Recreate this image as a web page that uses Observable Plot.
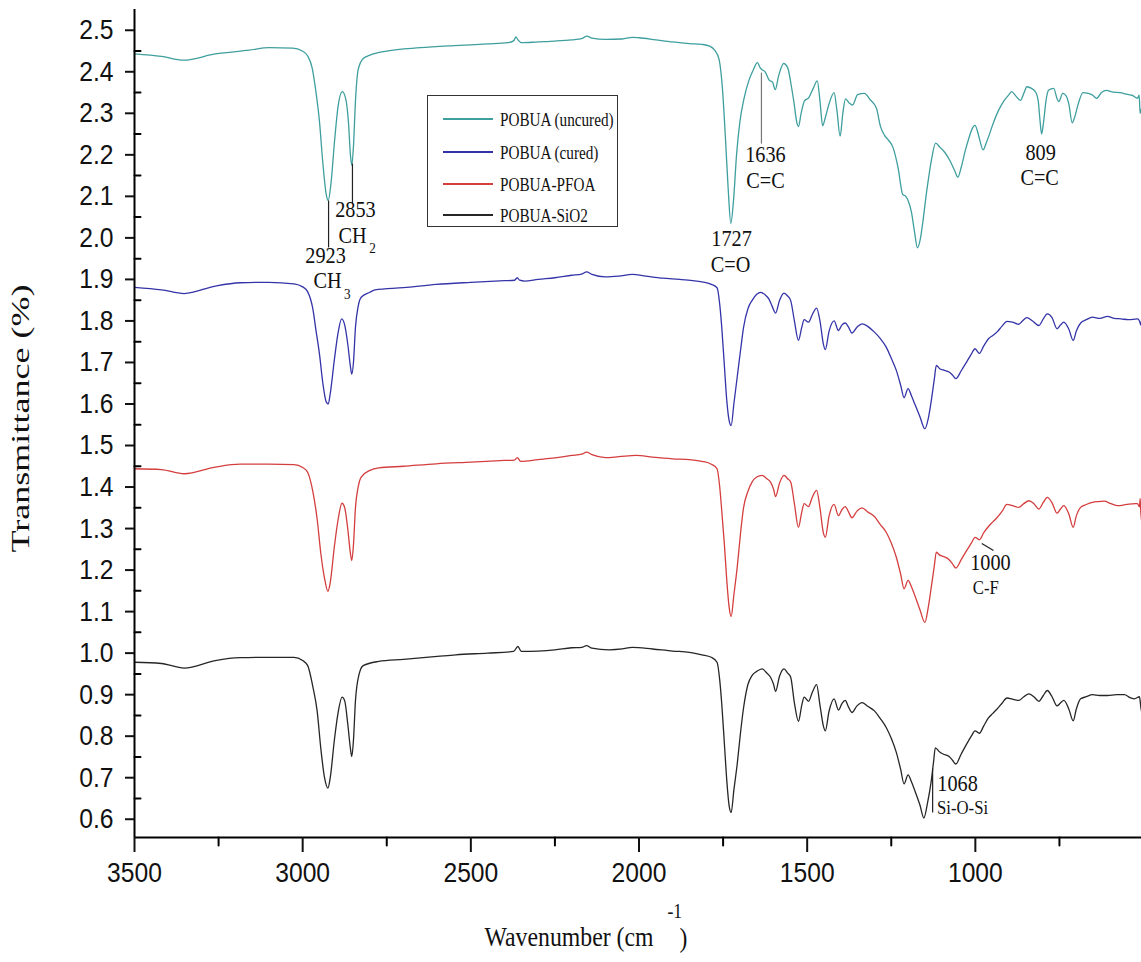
<!DOCTYPE html>
<html><head><meta charset="utf-8">
<script src="https://cdn.jsdelivr.net/npm/d3@7"></script>
<script src="https://cdn.jsdelivr.net/npm/@observablehq/plot@0.6"></script>
<style>
body{margin:0;background:#fff}
#chart{position:relative;width:1141px;height:962px}
#legend{position:absolute;left:427px;top:95px;width:191px;height:132px;border:1.5px solid #333;box-sizing:border-box;background:#fff}
.sw{position:absolute;left:15px;width:50px;height:0;border-top:2px solid}
.lab{position:absolute;left:72px;font-family:"Liberation Serif","Times New Roman",serif;font-size:19px;color:#111;white-space:nowrap;transform-origin:left center;transform:translateY(-50%) scaleX(0.8);line-height:1}
</style></head><body>
<div id="chart"><div id="legend"></div></div>
<script>
// ---- axes / tick labels ----
const xDomain = [3500, 506];
const yDomain = [0.556, 2.55];
const xTicks = [3500, 3000, 2500, 2000, 1500, 1000];
const xMinor = [3250, 2750, 2250, 1750, 1250, 750];
const yTicks = [0.6,0.7,0.8,0.9,1.0,1.1,1.2,1.3,1.4,1.5,1.6,1.7,1.8,1.9,2.0,2.1,2.2,2.3,2.4,2.5];
const yMinor = [0.65,0.75,0.85,0.95,1.05,1.15,1.25,1.35,1.45,1.55,1.65,1.75,1.85,1.95,2.05,2.15,2.25,2.35,2.45];
const xTitle = "Wavenumber (cm";
const xTitleSup = "-1";
const xTitleEnd = ")";
const yTitle = "Transmittance (%)";

// ---- series ----
const seriesNames = ["POBUA (uncured)", "POBUA (cured)", "POBUA-PFOA", "POBUA-SiO2"];
const seriesColors = ["#3f9e9e", "#3434a8", "#d43e3e", "#262626"];

const uncured = [[3500,2.443],[3420,2.437],[3354,2.428],[3260,2.443],[3159,2.452],[3099,2.458],[3030,2.457],[3001,2.45],[2985,2.438],[2972,2.41],[2962,2.36],[2950,2.28],[2940,2.18],[2930,2.105],[2924,2.09],[2916,2.13],[2905,2.235],[2895,2.315],[2882,2.352],[2872,2.335],[2864,2.28],[2858,2.2],[2854,2.175],[2849,2.22],[2843,2.33],[2835,2.405],[2820,2.432],[2800,2.44],[2750,2.45],[2650,2.458],[2550,2.463],[2450,2.467],[2390,2.47],[2372,2.475],[2366,2.484],[2360,2.477],[2350,2.47],[2300,2.472],[2250,2.474],[2200,2.477],[2170,2.48],[2155,2.486],[2140,2.481],[2100,2.478],[2050,2.479],[2020,2.483],[2000,2.482],[1950,2.477],[1900,2.472],[1850,2.468],[1813,2.466],[1790,2.462],[1775,2.452],[1762,2.43],[1752,2.36],[1743,2.24],[1735,2.12],[1727,2.035],[1719,2.09],[1710,2.2],[1700,2.28],[1688,2.335],[1673,2.38],[1660,2.405],[1648,2.422],[1640,2.41],[1634,2.405],[1625,2.4],[1613,2.38],[1603,2.375],[1595,2.357],[1585,2.39],[1570,2.42],[1558,2.41],[1548,2.37],[1540,2.33],[1530,2.275],[1526,2.268],[1518,2.3],[1508,2.33],[1495,2.338],[1482,2.36],[1470,2.378],[1462,2.33],[1454,2.27],[1446,2.29],[1436,2.32],[1420,2.35],[1412,2.31],[1402,2.245],[1394,2.3],[1386,2.335],[1375,2.325],[1365,2.32],[1350,2.345],[1330,2.348],[1312,2.332],[1294,2.312],[1282,2.268],[1270,2.247],[1258,2.235],[1245,2.218],[1230,2.17],[1216,2.105],[1207,2.1],[1200,2.09],[1190,2.062],[1181,2.015],[1172,1.976],[1163,2.0],[1155,2.045],[1147,2.098],[1138,2.15],[1130,2.19],[1118,2.228],[1105,2.218],[1090,2.205],[1075,2.185],[1062,2.163],[1052,2.146],[1042,2.17],[1030,2.21],[1020,2.238],[1010,2.262],[1001,2.271],[993,2.255],[987,2.236],[977,2.212],[968,2.228],[960,2.245],[946,2.278],[931,2.307],[915,2.33],[900,2.345],[892,2.352],[880,2.342],[866,2.331],[855,2.35],[847,2.364],[833,2.36],[820,2.35],[813,2.33],[808,2.285],[803,2.25],[797,2.28],[790,2.33],[782,2.356],[767,2.36],[757,2.335],[752,2.328],[740,2.348],[730,2.342],[722,2.322],[712,2.277],[705,2.29],[695,2.32],[680,2.35],[665,2.348],[650,2.343],[640,2.336],[625,2.35],[610,2.355],[590,2.351],[570,2.35],[550,2.346],[533,2.343],[518,2.336],[513,2.344],[510,2.3],[507,2.31]];

const cured = [[3500,1.881],[3420,1.875],[3352,1.866],[3260,1.884],[3186,1.892],[3100,1.893],[3026,1.889],[3000,1.882],[2985,1.87],[2970,1.83],[2960,1.775],[2950,1.72],[2940,1.65],[2930,1.605],[2924,1.6],[2918,1.625],[2906,1.705],[2895,1.77],[2884,1.805],[2875,1.79],[2866,1.745],[2858,1.69],[2854,1.672],[2849,1.7],[2843,1.785],[2835,1.835],[2826,1.857],[2800,1.869],[2785,1.875],[2700,1.88],[2603,1.888],[2500,1.893],[2400,1.897],[2370,1.898],[2362,1.904],[2355,1.898],[2340,1.896],[2300,1.9],[2250,1.904],[2200,1.91],[2170,1.913],[2156,1.918],[2140,1.912],[2100,1.906],[2060,1.908],[2020,1.912],[1980,1.908],[1930,1.903],[1880,1.9],[1840,1.897],[1813,1.894],[1785,1.888],[1768,1.88],[1760,1.84],[1754,1.785],[1746,1.69],[1739,1.608],[1732,1.56],[1726,1.548],[1718,1.6],[1708,1.665],[1698,1.73],[1689,1.785],[1676,1.83],[1664,1.849],[1650,1.864],[1639,1.869],[1625,1.863],[1614,1.853],[1604,1.835],[1594,1.819],[1582,1.85],[1569,1.867],[1558,1.86],[1549,1.849],[1538,1.8],[1526,1.753],[1516,1.785],[1509,1.803],[1496,1.797],[1485,1.815],[1472,1.831],[1462,1.8],[1452,1.745],[1446,1.731],[1435,1.775],[1420,1.8],[1407,1.777],[1397,1.79],[1387,1.795],[1377,1.785],[1367,1.771],[1352,1.785],[1337,1.793],[1320,1.787],[1300,1.773],[1283,1.758],[1265,1.737],[1250,1.71],[1235,1.681],[1222,1.645],[1212,1.615],[1200,1.637],[1190,1.62],[1180,1.6],[1165,1.57],[1150,1.54],[1140,1.565],[1131,1.608],[1122,1.66],[1116,1.693],[1106,1.685],[1096,1.682],[1078,1.677],[1068,1.67],[1058,1.661],[1042,1.68],[1026,1.701],[1012,1.72],[1001,1.733],[988,1.722],[975,1.74],[961,1.757],[948,1.765],[936,1.773],[920,1.788],[906,1.799],[890,1.797],[871,1.792],[860,1.8],[847,1.808],[830,1.8],[811,1.789],[798,1.805],[786,1.817],[772,1.808],[757,1.781],[747,1.79],[737,1.797],[722,1.78],[709,1.753],[700,1.775],[687,1.795],[670,1.803],[652,1.809],[630,1.806],[607,1.811],[587,1.806],[567,1.805],[545,1.803],[518,1.805],[512,1.8],[508,1.79],[506,1.8]];

const pfoa = [[3500,1.444],[3420,1.442],[3352,1.432],[3260,1.448],[3186,1.455],[3100,1.455],[3026,1.454],[3000,1.447],[2985,1.435],[2970,1.39],[2957,1.323],[2946,1.24],[2935,1.18],[2925,1.149],[2918,1.17],[2906,1.255],[2895,1.32],[2883,1.361],[2875,1.35],[2866,1.3],[2858,1.24],[2854,1.223],[2849,1.26],[2843,1.351],[2835,1.4],[2826,1.424],[2800,1.44],[2774,1.446],[2700,1.45],[2603,1.456],[2500,1.46],[2400,1.464],[2370,1.465],[2362,1.471],[2352,1.462],[2300,1.466],[2250,1.47],[2200,1.476],[2170,1.479],[2156,1.484],[2140,1.478],[2100,1.471],[2060,1.473],[2008,1.476],[1960,1.472],[1900,1.468],[1850,1.466],[1813,1.462],[1785,1.455],[1768,1.444],[1760,1.4],[1754,1.343],[1746,1.26],[1739,1.175],[1732,1.11],[1726,1.088],[1718,1.14],[1708,1.207],[1698,1.29],[1689,1.351],[1676,1.39],[1664,1.412],[1650,1.424],[1634,1.428],[1620,1.42],[1609,1.412],[1600,1.395],[1594,1.377],[1582,1.41],[1569,1.428],[1558,1.42],[1549,1.412],[1538,1.36],[1526,1.303],[1516,1.34],[1509,1.36],[1496,1.353],[1485,1.375],[1472,1.392],[1462,1.35],[1452,1.29],[1446,1.279],[1435,1.33],[1420,1.358],[1407,1.331],[1397,1.345],[1387,1.353],[1377,1.34],[1367,1.326],[1352,1.342],[1337,1.35],[1320,1.34],[1300,1.329],[1283,1.31],[1265,1.291],[1250,1.265],[1235,1.231],[1222,1.19],[1212,1.155],[1200,1.175],[1190,1.16],[1180,1.139],[1165,1.105],[1150,1.074],[1140,1.11],[1131,1.159],[1122,1.21],[1116,1.243],[1106,1.236],[1096,1.233],[1078,1.225],[1068,1.215],[1058,1.205],[1042,1.225],[1026,1.247],[1012,1.265],[1001,1.279],[988,1.273],[975,1.29],[961,1.305],[948,1.316],[936,1.326],[920,1.342],[906,1.358],[890,1.355],[871,1.351],[856,1.36],[841,1.367],[826,1.36],[811,1.347],[798,1.363],[786,1.375],[772,1.362],[757,1.337],[747,1.347],[737,1.355],[722,1.335],[709,1.303],[700,1.33],[687,1.351],[670,1.358],[652,1.363],[635,1.365],[617,1.366],[597,1.36],[577,1.355],[550,1.358],[525,1.36],[518,1.36],[512,1.352],[510,1.372],[508,1.34],[506,1.32]];

const sio2 = [[3500,0.978],[3420,0.975],[3352,0.964],[3260,0.982],[3186,0.989],[3100,0.99],[3026,0.99],[3000,0.982],[2985,0.97],[2970,0.92],[2957,0.861],[2946,0.77],[2935,0.7],[2925,0.675],[2918,0.7],[2906,0.789],[2895,0.855],[2883,0.894],[2875,0.885],[2866,0.83],[2858,0.77],[2854,0.751],[2849,0.79],[2843,0.886],[2832,0.95],[2820,0.97],[2774,0.98],[2700,0.985],[2600,0.992],[2545,0.996],[2450,1.0],[2373,1.004],[2360,1.016],[2350,1.004],[2300,1.005],[2250,1.008],[2200,1.013],[2170,1.014],[2156,1.018],[2140,1.012],[2089,1.008],[2050,1.01],[2020,1.014],[1960,1.01],[1900,1.005],[1850,1.002],[1813,0.996],[1785,0.99],[1768,0.978],[1760,0.935],[1754,0.878],[1746,0.78],[1739,0.693],[1732,0.632],[1726,0.616],[1718,0.67],[1708,0.733],[1698,0.81],[1689,0.869],[1676,0.925],[1664,0.946],[1650,0.956],[1634,0.962],[1620,0.952],[1609,0.942],[1600,0.925],[1594,0.908],[1582,0.945],[1569,0.962],[1558,0.952],[1549,0.942],[1538,0.88],[1526,0.836],[1516,0.875],[1509,0.894],[1496,0.884],[1485,0.905],[1472,0.924],[1462,0.875],[1452,0.825],[1446,0.813],[1435,0.86],[1420,0.89],[1407,0.863],[1397,0.878],[1387,0.886],[1377,0.87],[1367,0.857],[1352,0.873],[1337,0.881],[1320,0.872],[1300,0.861],[1283,0.843],[1265,0.821],[1250,0.795],[1235,0.761],[1222,0.72],[1212,0.685],[1200,0.707],[1190,0.69],[1180,0.669],[1165,0.635],[1153,0.603],[1142,0.64],[1131,0.693],[1124,0.74],[1119,0.772],[1106,0.762],[1096,0.757],[1078,0.751],[1068,0.742],[1058,0.733],[1042,0.757],[1026,0.781],[1012,0.8],[1001,0.813],[988,0.807],[975,0.825],[961,0.844],[948,0.855],[936,0.865],[920,0.88],[906,0.892],[890,0.889],[871,0.886],[856,0.895],[841,0.902],[826,0.895],[811,0.884],[798,0.898],[786,0.91],[772,0.895],[757,0.873],[747,0.88],[737,0.886],[722,0.865],[709,0.837],[700,0.865],[687,0.89],[670,0.895],[652,0.9],[630,0.898],[607,0.898],[580,0.9],[557,0.9],[540,0.893],[527,0.89],[512,0.895],[508,0.87],[506,0.86]];

const seriesData = [uncured, cured, pfoa, sio2];

// ---- annotations (text anchored at wavenumber / transmittance) ----
const peakLabels = [
  {t: "2853", x: 2843, y: 2.068},
  {t: "2923", x: 2932, y: 1.958},
  {t: "1727", x: 1725, y: 1.998},
  {t: "1636", x: 1624, y: 2.201},
  {t: "809",  x: 806,  y: 2.206},
  {t: "1000", x: 955,  y: 1.218},
  {t: "1068", x: 1053, y: 0.686}
];
const groupLabels = [
  {t: "CH",  x: 2852, y: 2.006},
  {t: "CH",  x: 2926, y: 1.897},
  {t: "C=O", x: 1728, y: 1.936},
  {t: "C=C", x: 1624, y: 2.138},
  {t: "C=C", x: 809,  y: 2.145}
];
const smallGroupLabels = [
  {t: "C-F",     x: 969,  y: 1.158},
  {t: "Si-O-Si", x: 1038, y: 0.628}
];
const subscriptLabels = [
  {t: "2", x: 2792, y: 1.975},
  {t: "3", x: 2867, y: 1.865}
];
const leaders = [
  {x1: 2923, y1: 2.090, x2: 2923, y2: 1.977, c: "k"},
  {x1: 2852, y1: 2.179, x2: 2852, y2: 2.083, c: "k"},
  {x1: 1636, y1: 2.398, x2: 1636, y2: 2.227, c: "g"},
  {x1: 1127, y1: 0.722, x2: 1127, y2: 0.616, c: "k"},
  {x1: 981,  y1: 1.264, x2: 946,  y2: 1.247, c: "k"}
];

const serif = "Liberation Serif, Times New Roman, serif";
const sans = "Liberation Sans, Arial, sans-serif";
const stub = {draw(context, l) { context.moveTo(0, 0); context.lineTo(0, -l); }};

const marks = [];
seriesData.forEach((s, i) => {
  marks.push(Plot.line(s, {x: d => d[0], y: d => d[1], stroke: seriesColors[i], strokeWidth: 1.3, curve: "monotone-x"}));
});
marks.push(
  Plot.link(leaders, {x1: "x1", y1: "y1", x2: "x2", y2: "y2", stroke: d => d.c === "g" ? "#777" : "#222", strokeWidth: 1.2}),
  Plot.text(peakLabels, {x: "x", y: "y", text: "t", fontSize: 23, fontFamily: serif, fill: "#111"}),
  Plot.text(groupLabels, {x: "x", y: "y", text: "t", fontSize: 23, fontFamily: serif, fill: "#111"}),
  Plot.text(smallGroupLabels, {x: "x", y: "y", text: "t", fontSize: 19, fontFamily: serif, fill: "#111"}),
  Plot.text(subscriptLabels, {x: "x", y: "y", text: "t", fontSize: 15, fontFamily: serif, fill: "#111"}),
  Plot.ruleX([xDomain[0]], {stroke: "#000", strokeWidth: 2}),
  Plot.ruleY([yDomain[0]], {stroke: "#000", strokeWidth: 2}),
  Plot.axisY({ticks: yTicks, tickSize: 9, tickPadding: 12, tickFormat: d3.format(".1f"), fontSize: 28, fontFamily: sans, label: null, strokeWidth: 2, color: "#111"}),
  Plot.axisX({ticks: xTicks, tickSize: 15, tickPadding: 10, tickFormat: d => String(d), fontSize: 28, fontFamily: sans, label: null, strokeWidth: 2, color: "#111"}),
  Plot.vector(yMinor, {x: () => xDomain[0], y: d => d, rotate: 90, length: 6, anchor: "start", shape: stub, stroke: "#000", strokeWidth: 2}),
  Plot.vector(xMinor, {x: d => d, y: () => yDomain[0], rotate: 180, length: 8, anchor: "start", shape: stub, stroke: "#000", strokeWidth: 2}),
  Plot.text([yTitle], {frameAnchor: "left", dx: -114, dy: 129, rotate: -90, textAnchor: "start", fontSize: 25, fontFamily: serif, fill: "#111"}),
  Plot.text([xTitle], {frameAnchor: "bottom-left", dx: 519, dy: 108, textAnchor: "end", fontSize: 27, fontFamily: serif, fill: "#111"}),
  Plot.text([xTitleSup], {frameAnchor: "bottom-left", dx: 533, dy: 80, fontSize: 20, fontFamily: serif, fill: "#111"}),
  Plot.text([xTitleEnd], {frameAnchor: "bottom-left", dx: 545, dy: 109, fontSize: 27, fontFamily: serif, fill: "#111"})
);

const chart = Plot.plot({
  width: 1141, height: 962,
  marginLeft: 134, marginRight: 0, marginTop: 9, marginBottom: 125,
  x: {domain: xDomain, axis: null},
  y: {domain: yDomain, axis: null},
  style: {background: "white", color: "#111", overflow: "visible"},
  marks
});
const host = document.getElementById("chart");
host.insertBefore(chart, host.firstChild);

// the original figure is condensed horizontally: squeeze horizontal text, stretch the rotated title
chart.querySelectorAll("text").forEach(el => {
  const s = el.textContent;
  const L = el.getComputedTextLength();
  if (!L) return;
  const len = s === yTitle ? 268 : L * 0.88;
  el.setAttribute("textLength", len.toFixed(1));
  el.setAttribute("lengthAdjust", "spacingAndGlyphs");
});

// legend
const legend = document.getElementById("legend");
const legendRows = [23, 56, 88, 119];
seriesNames.forEach((name, i) => {
  const sw = document.createElement("div");
  sw.className = "sw";
  sw.style.top = (legendRows[i] - 1) + "px";
  sw.style.borderTopColor = seriesColors[i];
  const lab = document.createElement("div");
  lab.className = "lab";
  lab.style.top = legendRows[i] + "px";
  lab.textContent = name;
  legend.appendChild(sw);
  legend.appendChild(lab);
});
</script>
</body></html>
